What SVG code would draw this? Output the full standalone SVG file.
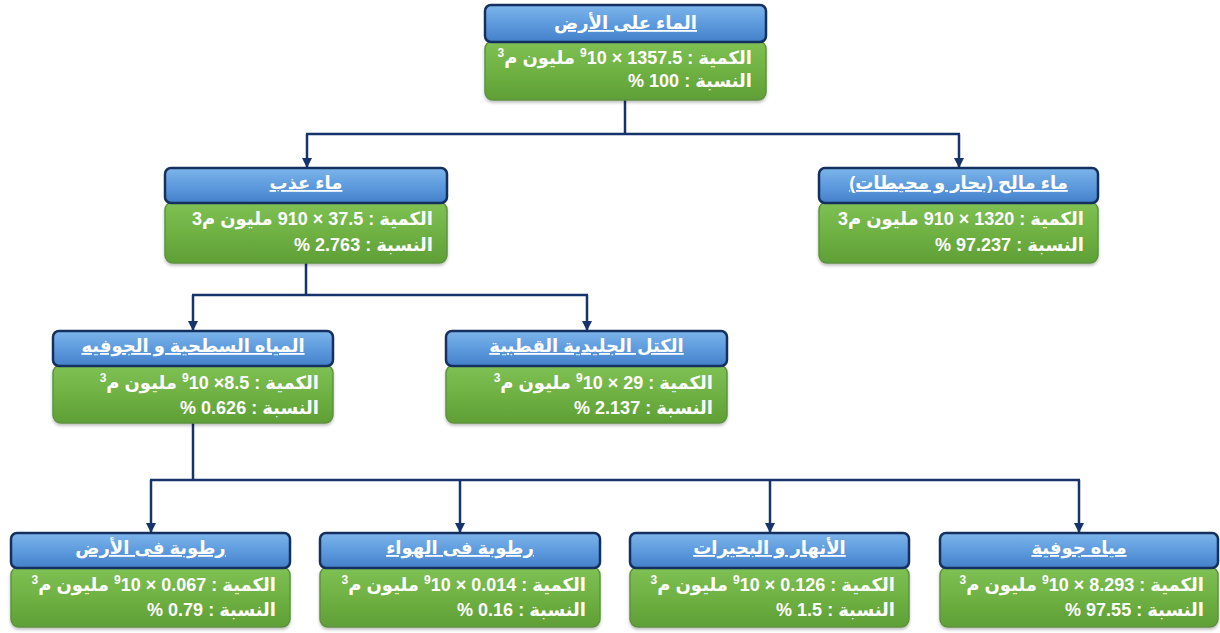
<svg xmlns="http://www.w3.org/2000/svg" width="1220" height="633" viewBox="0 0 1220 633">
  <defs>
    <linearGradient id="gHead" x1="0" y1="0" x2="0" y2="1">
      <stop offset="0" stop-color="#7db5ea"/>
      <stop offset="0.5" stop-color="#5e9bde"/>
      <stop offset="1" stop-color="#4380c9"/>
    </linearGradient>
    <linearGradient id="gBody" x1="0" y1="0" x2="0" y2="1">
      <stop offset="0" stop-color="#7fc154"/>
      <stop offset="0.5" stop-color="#6fb143"/>
      <stop offset="1" stop-color="#5f9f36"/>
    </linearGradient>
    <filter id="shadow" x="-5%" y="-10%" width="110%" height="130%">
      <feDropShadow dx="0" dy="2" stdDeviation="1.5" flood-color="#000" flood-opacity="0.25"/>
    </filter>
    <marker id="arrow" viewBox="0 0 10 10" refX="10" refY="5" markerWidth="10" markerHeight="10" markerUnits="userSpaceOnUse" orient="auto">
      <path d="M0,0 L10,5 L0,10 z" fill="#17336b"/>
    </marker>
    <style>
      .head { fill: url(#gHead); stroke: #14305f; stroke-width: 2.5; }
      .body { fill: url(#gBody); stroke: #5e9240; stroke-width: 1.5; filter: url(#shadow); }
      .title { font-family: "Liberation Sans", "DejaVu Sans", sans-serif; font-weight: bold; font-size: 18px; fill: #ffffff; text-anchor: middle; text-decoration: underline; }
      .line { font-family: "Liberation Sans", "DejaVu Sans", sans-serif; font-weight: bold; font-size: 18px; fill: #ffffff; text-anchor: start; direction: rtl; }
      .sup { font-size: 12px; baseline-shift: 7px; }
      .conn { fill: none; stroke: #17336b; stroke-width: 2.5; }
    </style>
  </defs>

  <!-- connectors -->
  <g id="connectors">
    <path class="conn" d="M625,100 V134 M306,134 H960"/>
    <path class="conn" d="M307,134 V168" marker-end="url(#arrow)"/>
    <path class="conn" d="M959,134 V168" marker-end="url(#arrow)"/>
    <path class="conn" d="M306,263 V295 M192,295 H588"/>
    <path class="conn" d="M193,295 V331" marker-end="url(#arrow)"/>
    <path class="conn" d="M587,295 V331" marker-end="url(#arrow)"/>
    <path class="conn" d="M193,423 V480 M150,480 H1080"/>
    <path class="conn" d="M151,480 V533" marker-end="url(#arrow)"/>
    <path class="conn" d="M460,480 V533" marker-end="url(#arrow)"/>
    <path class="conn" d="M770,480 V533" marker-end="url(#arrow)"/>
    <path class="conn" d="M1079,480 V533" marker-end="url(#arrow)"/>
  </g>

  <!-- root: water on earth -->
  <g id="node-earth">
    <rect class="body" x="485" y="41" width="281" height="59" rx="8"/>
    <rect class="head" x="485" y="5" width="281" height="37" rx="6"/>
    <text class="title" x="625.5" y="29">الماء على الأرض</text>
    <text class="line" x="752" y="64">الكمية : 1357.5 × 10&#x200F;<tspan class="sup">9</tspan> مليون م<tspan class="sup">3</tspan></text>
    <text class="line" x="752" y="87">النسبة : 100 %</text>
  </g>

  <!-- fresh water -->
  <g id="node-fresh">
    <rect class="body" x="165" y="202" width="282" height="61" rx="8"/>
    <rect class="head" x="165" y="168" width="282" height="35" rx="6"/>
    <text class="title" x="306" y="189">ماء عذب</text>
    <text class="line" x="433" y="225">الكمية : 37.5 × 910 مليون م3</text>
    <text class="line" x="433" y="251">النسبة : 2.763 %</text>
  </g>

  <!-- salt water -->
  <g id="node-salt">
    <rect class="body" x="819" y="202" width="279" height="61" rx="8"/>
    <rect class="head" x="819" y="168" width="279" height="35" rx="6"/>
    <text class="title" x="958.5" y="189">ماء مالح (بحار و محيطات)</text>
    <text class="line" x="1084" y="225">الكمية : 1320 × 910 مليون م3</text>
    <text class="line" x="1084" y="251">النسبة : 97.237 %</text>
  </g>

  <!-- surface and ground water -->
  <g id="node-surface">
    <rect class="body" x="53" y="365" width="280" height="58" rx="8"/>
    <rect class="head" x="53" y="331" width="280" height="35" rx="6"/>
    <text class="title" x="193" y="352">المياه السطحية و الجوفيه</text>
    <text class="line" x="319" y="389">الكمية : 8.5× 10&#x200F;<tspan class="sup">9</tspan> مليون م<tspan class="sup">3</tspan></text>
    <text class="line" x="319" y="414">النسبة : 0.626 %</text>
  </g>

  <!-- polar ice -->
  <g id="node-ice">
    <rect class="body" x="446" y="365" width="281" height="58" rx="8"/>
    <rect class="head" x="446" y="331" width="281" height="35" rx="6"/>
    <text class="title" x="586.5" y="352">الكتل الجليدية القطبية</text>
    <text class="line" x="713" y="389">الكمية : 29 × 10&#x200F;<tspan class="sup">9</tspan> مليون م<tspan class="sup">3</tspan></text>
    <text class="line" x="713" y="414">النسبة : 2.137 %</text>
  </g>

  <!-- soil moisture -->
  <g id="node-soil">
    <rect class="body" x="11" y="567" width="279" height="60" rx="8"/>
    <rect class="head" x="11" y="533" width="279" height="35" rx="6"/>
    <text class="title" x="150.5" y="554">رطوبة فى الأرض</text>
    <text class="line" x="276" y="591">الكمية : 0.067 × 10&#x200F;<tspan class="sup">9</tspan> مليون م<tspan class="sup">3</tspan></text>
    <text class="line" x="276" y="616">النسبة : 0.79 %</text>
  </g>

  <!-- atmospheric moisture -->
  <g id="node-air">
    <rect class="body" x="320" y="567" width="280" height="60" rx="8"/>
    <rect class="head" x="320" y="533" width="280" height="35" rx="6"/>
    <text class="title" x="460" y="554">رطوبة فى الهواء</text>
    <text class="line" x="586" y="591">الكمية : 0.014 × 10&#x200F;<tspan class="sup">9</tspan> مليون م<tspan class="sup">3</tspan></text>
    <text class="line" x="586" y="616">النسبة : 0.16 %</text>
  </g>

  <!-- rivers and lakes -->
  <g id="node-rivers">
    <rect class="body" x="630" y="567" width="279" height="60" rx="8"/>
    <rect class="head" x="630" y="533" width="279" height="35" rx="6"/>
    <text class="title" x="769.5" y="554">الأنهار و البحيرات</text>
    <text class="line" x="895" y="591">الكمية : 0.126 × 10&#x200F;<tspan class="sup">9</tspan> مليون م<tspan class="sup">3</tspan></text>
    <text class="line" x="895" y="616">النسبة : 1.5 %</text>
  </g>

  <!-- groundwater -->
  <g id="node-ground">
    <rect class="body" x="940" y="567" width="278" height="60" rx="8"/>
    <rect class="head" x="940" y="533" width="278" height="35" rx="6"/>
    <text class="title" x="1079" y="554">مياه جوفية</text>
    <text class="line" x="1204" y="591">الكمية : 8.293 × 10&#x200F;<tspan class="sup">9</tspan> مليون م<tspan class="sup">3</tspan></text>
    <text class="line" x="1204" y="616">النسبة : 97.55 %</text>
  </g>
</svg>
